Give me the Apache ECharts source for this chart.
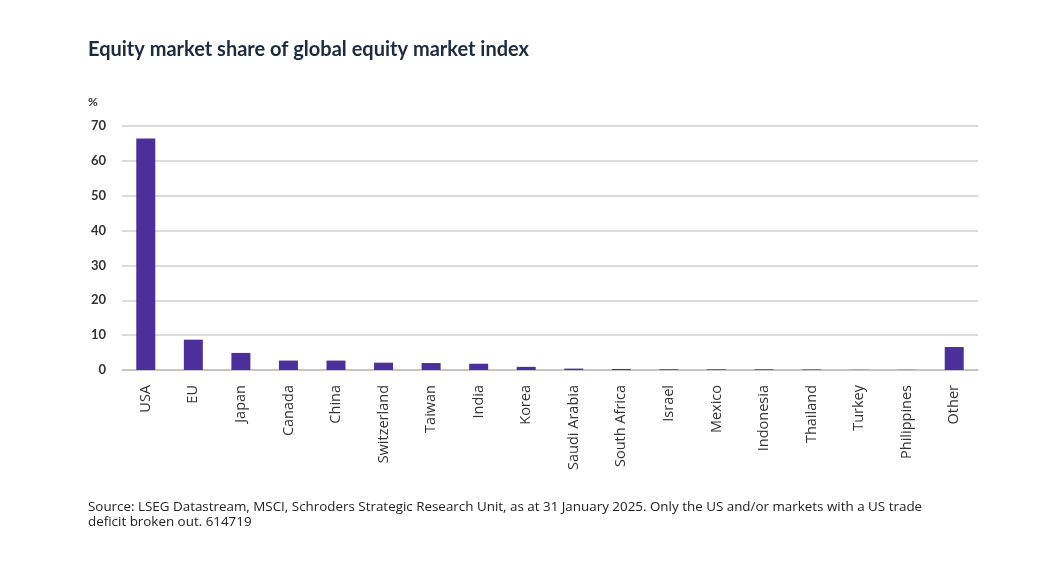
<!DOCTYPE html>
<html><head><meta charset="utf-8">
<script src="https://cdn.jsdelivr.net/npm/echarts@6/dist/echarts.min.js"></script>
<style>html,body{margin:0;padding:0;background:#fff}#c{width:1037px;height:577px}</style>
</head><body><div id="c"></div>
<script>
const categories = ['USA','EU','Japan','Canada','China','Switzerland','Taiwan','India','Korea','Saudi Arabia','South Africa','Israel','Mexico','Indonesia','Thailand','Turkey','Philippines','Other'];
const shares = [66.4, 8.7, 4.9, 2.7, 2.7, 2.1, 2.0, 1.8, 0.9, 0.4, 0.3, 0.2, 0.2, 0.2, 0.15, 0.05, 0.05, 6.6];
const yTicks = [0, 10, 20, 30, 40, 50, 60, 70];
const titleText = 'Equity market share of global equity market index';
const sourceText = 'Source: LSEG Datastream, MSCI, Schroders Strategic Research Unit, as at 31 January 2025. Only the US and/or markets with a US trade\ndeficit broken out. 614719';

const chart = echarts.init(document.getElementById('c'));
chart.setOption({
  animation: false,
  backgroundColor: '#fff',
  title: {
    text: titleText, left: 83, top: 35,
    textStyle: {fontFamily: 'Lato', fontWeight: 'bold', fontSize: 20, color: '#1c2b3e'}
  },
  grid: {left: 122, right: 59, top: 126, bottom: 207, containLabel: false},
  xAxis: {
    type: 'category', data: categories,
    axisLine: {show: true, lineStyle: {color: '#bfbfbf', width: 1.5}},
    axisTick: {show: false},
    axisLabel: {rotate: 90, margin: 15, fontFamily: 'Open Sans', fontSize: 14.5, color: '#333'}
  },
  yAxis: {
    type: 'value', min: yTicks[0], max: yTicks[yTicks.length-1], interval: 10,
    axisLine: {show: false}, axisTick: {show: false},
    axisLabel: {margin: 16, fontFamily: 'Lato', fontSize: 13, fontWeight: 'bold', color: '#333'},
    splitLine: {lineStyle: {color: '#cfcfcf', width: 1.5}}
  },
  series: [{
    type: 'bar', data: shares, barWidth: 19,
    itemStyle: {color: '#4b2f9b'}
  }],
  graphic: [
    {type: 'text', left: 88, top: 96, style: {text: '%', font: 'bold 12px Lato', fill: '#333'}},
    {type: 'text', left: 88, top: 500, style: {text: sourceText, font: '13.4px "Open Sans"', fill: '#222', lineHeight: 15}}
  ]
});
</script></body></html>
